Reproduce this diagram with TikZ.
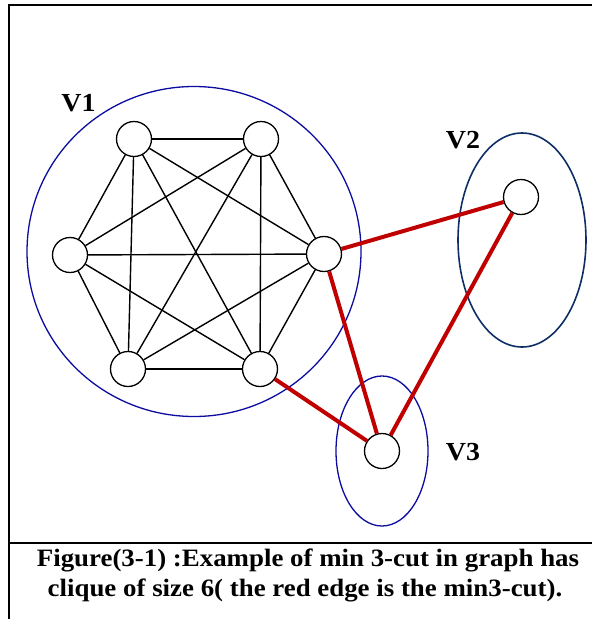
\documentclass[tikz,border=0pt]{standalone}
\usepackage{fontspec}
\setmainfont{Liberation Serif}
\usetikzlibrary{shapes.geometric}
\definecolor{cutred}{HTML}{C00000}
\definecolor{partblue}{HTML}{0C0CA0}
\definecolor{partnavy}{HTML}{0F2E66}
\newcommand{\wide}[1]{\scalebox{1.075}[1]{#1}}
\tikzset{
  vtx/.style={circle,draw,fill=white,line width=1.3pt,minimum size=35pt,inner sep=0pt},
  part/.style={ellipse,draw=partblue,line width=1.3pt,inner sep=0pt},
  clq/.style={line width=1.4pt},
  cut/.style={cutred,line width=4pt},
  lbl/.style={font=\fontsize{26}{30}\selectfont\bfseries,inner sep=0pt},
  captxt/.style={font=\fontsize{25}{29}\selectfont\bfseries,inner sep=0pt,anchor=base},
  frame/.style={line width=1.6pt},
}
\begin{document}
\begin{tikzpicture}[x=1pt,y=-1pt]
\useasboundingbox (0,0) rectangle (592,619);
% frame
\draw[frame] (592,4.7) -| (9,619);
\draw[frame] (9,542.7) -- (592,542.7);
% parts
\node[part,minimum width=334pt,minimum height=330pt] (P1) at (194,251.5) {};
\node[part,draw=partnavy,line width=1.6pt,minimum width=128pt,minimum height=214pt] (P2) at (522,240) {};
\node[part,minimum width=92pt,minimum height=150pt] (P3) at (382,451) {};
\node[lbl] (L1) at (78.5,103) {\wide{V1}};
\node[lbl] (L2) at (463,140) {\wide{V2}};
\node[lbl] (L3) at (463,452) {\wide{V3}};
% vertices
\foreach \n/\x/\y in {a/134/139,b/261/139,c/70/255,d/324/254,e/128/369,f/260/369,g/521/197,h/382/451}
  \node[vtx] (\n) at (\x,\y) {};
% clique of size 6
\foreach \s/\t in {a/b,a/c,a/d,a/e,a/f,b/c,b/d,b/e,b/f,c/d,c/e,c/f,d/e,d/f,e/f}
  \draw[clq] (\s) -- (\t);
% the cut
\foreach \s/\t in {d/g,d/h,f/h,g/h}
  \draw[cut] (\s) -- (\t);
\node[captxt] (cap1) at (308,566.7) {\wide{Figure(3-1) :Example of min 3-cut in graph has}};
\node[captxt] (cap2) at (305,596) {\wide{clique of size 6( the red edge is the min3-cut).}};
\end{tikzpicture}
\end{document}
